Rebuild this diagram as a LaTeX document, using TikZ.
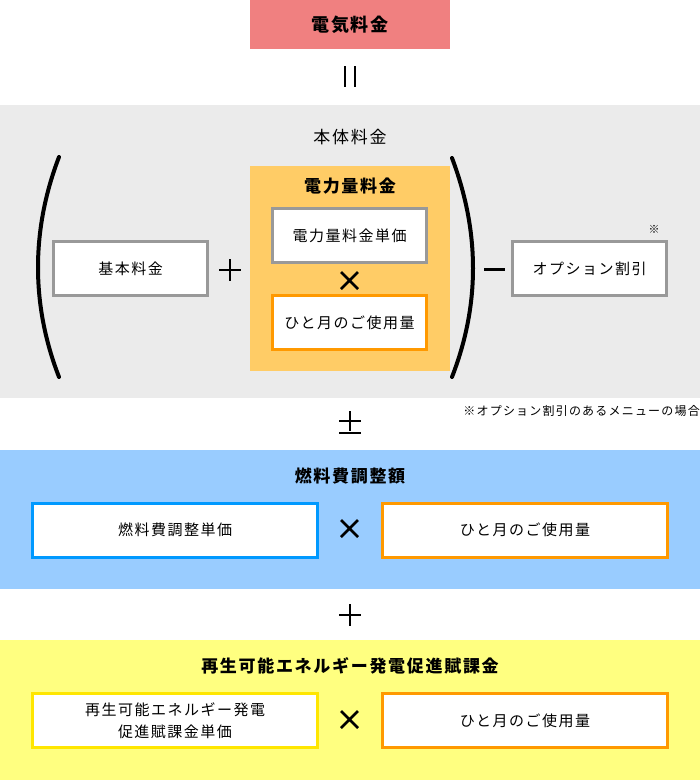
\documentclass[tikz,border=0pt]{standalone}
\usepackage{fontspec}
\setmainfont[LetterSpace=10]{Noto Sans CJK JP}
\definecolor{cred}{HTML}{F08080}
\definecolor{cgray}{HTML}{EBEBEB}
\definecolor{corangebg}{HTML}{FFCC66}
\definecolor{cblue}{HTML}{99CCFF}
\definecolor{cyellow}{HTML}{FFFF80}
\definecolor{bgray}{HTML}{999999}
\definecolor{borange}{HTML}{FF9900}
\definecolor{bblue}{HTML}{0099FF}
\definecolor{byellow}{HTML}{FFE600}
\tikzset{
  box/.style={draw=bgray, line width=3pt, fill=white, inner sep=0pt, align=center,
    font=\fontsize{15}{22}\selectfont},
  narrowbox/.style={box, minimum width=154pt, minimum height=54pt},
  widebox/.style={box, minimum width=285pt, minimum height=54pt},
  title/.style={inner sep=0pt, font=\fontsize{17}{20}\selectfont\bfseries},
  op/.style={line width=2.6pt},
  paren/.style={line width=4pt, line cap=round},
}
\begin{document}
\begin{tikzpicture}[x=1pt, y=-1pt]
\useasboundingbox (0,0) rectangle (700,780);
% bands
\fill[cgray] (0,105) rectangle (700,398);
\fill[cblue] (0,450) rectangle (700,589);
\fill[cyellow] (0,640) rectangle (700,780);
\fill[corangebg] (250,166) rectangle (450,371);
% top
\node[fill=cred, minimum width=200pt, minimum height=49pt, inner sep=0pt,
  font=\fontsize{18}{20}\selectfont\bfseries] (total) at (350,24.5) {電気料金};
% vertical equals
\draw[op, line width=2.4pt] (345,66) -- (345,87) (355,66) -- (355,87);
% basic fee block
\node[inner sep=0pt, font=\fontsize{17}{20}\selectfont] (hontai) at (350,137) {本体料金};
\node[title] (denryoku) at (350,186) {電力量料金};
\draw[paren] (59,157) .. controls (31,230) and (31,305) .. (59,377);
\draw[paren] (452,158) .. controls (480,232) and (480,305) .. (452,377);
\node[narrowbox] (kihon) at (130.5,268.5) {基本料金};
\node[narrowbox] (tanka) at (349.5,235.5) {電力量料金単価};
\node[narrowbox, draw=borange] (usage1) at (349.5,322.5) {ひと月のご使用量};
\node[narrowbox] (option) at (589.5,268.5) {オプション割引};
\node[inner sep=0pt, font=\fontsize{11}{12}\selectfont] (kome) at (654,229) {※};
% operators
\draw[op] (219,270) -- (241,270) (230,259) -- (230,281);
\draw[op] (341,272) -- (358,289) (358,272) -- (341,289);
\draw[line width=3pt] (484,269) -- (505,269);
% note
\node[anchor=east, inner sep=0pt, font=\fontsize{12}{14}\selectfont] (note) at (700,411) {※オプション割引のあるメニューの場合};
% plus-minus
\draw[op, line width=2.2pt] (339,421) -- (361,421) (350,411) -- (350,431) (339,433) -- (361,433);
% fuel
\node[title] (fueltitle) at (350,476) {燃料費調整額};
\node[widebox, draw=bblue] (fuel) at (175,530) {燃料費調整単価};
\node[widebox, draw=borange] (usage2) at (525,530) {ひと月のご使用量};
\draw[op] (341,520) -- (358,537) (358,520) -- (341,537);
% plus
\draw[op] (339,615) -- (361,615) (350,604) -- (350,626);
% renewable
\node[title] (renewtitle) at (350,666) {再生可能エネルギー発電促進賦課金};
\node[widebox, draw=byellow] (renew) at (175,720.5) {再生可能エネルギー発電\\促進賦課金単価};
\node[widebox, draw=borange] (usage3) at (525,720.5) {ひと月のご使用量};
\draw[op] (341,711) -- (358,728) (358,711) -- (341,728);
\end{tikzpicture}
\end{document}
